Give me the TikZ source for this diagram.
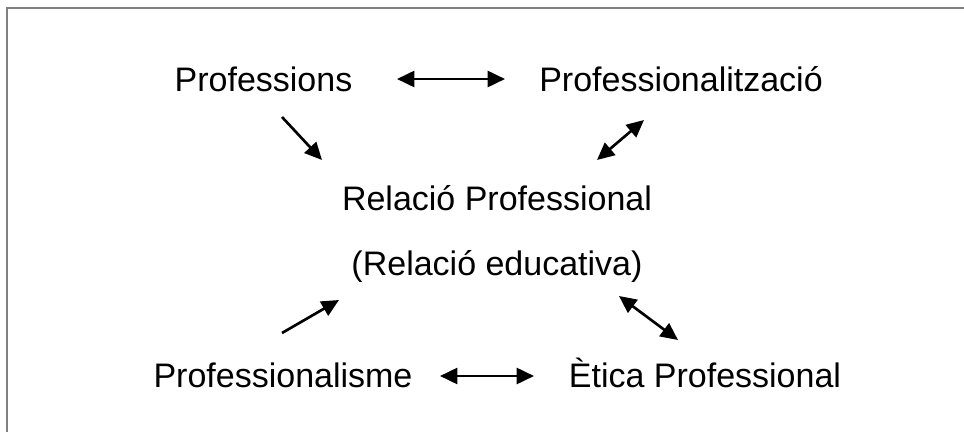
\documentclass[tikz,border=0pt]{standalone}
\usepackage{fontspec}
\setmainfont{Liberation Sans}
\usetikzlibrary{arrows.meta}
\begin{document}
\begin{tikzpicture}[x=0.75pt,y=-0.75pt,
  lbl/.style={anchor=base,inner sep=0pt,font=\fontsize{25.5}{30}\selectfont},
  conn/.style={line width=2pt,-{Triangle[length=13pt,width=12pt]}},
  biconn/.style={line width=2pt,{Triangle[length=13pt,width=12pt]}-{Triangle[length=13pt,width=12pt]}},
  frame/.style={draw=black!50,line width=1.5pt}]
\useasboundingbox (0,0) rectangle (964,432);
\draw[frame] (6.5,440) -- (6.5,8) -- (970,8);
% texts
\node[lbl] (prof) at (263.5,91) {Professions};
\node[lbl] (profz) at (681,91) {Professionalització};
\node[lbl] (rel) at (497,210) {Relació Professional};
\node[lbl] (reled) at (497,275) {(Relació educativa)};
\node[lbl] (profm) at (283,387) {Professionalisme};
\node[lbl] (etica) at (705,387) {Ètica Professional};
% arrow ends
\coordinate (a1) at (397,79);  \coordinate (b1) at (505,79);
\coordinate (a2) at (282,117); \coordinate (b2) at (322,160);
\coordinate (a3) at (597,160); \coordinate (b3) at (644,120);
\coordinate (a4) at (282,333); \coordinate (b4) at (339,300);
\coordinate (a5) at (619,296); \coordinate (b5) at (678,340);
\coordinate (a6) at (440,376); \coordinate (b6) at (534,376);
\draw[biconn] (a1) -- (b1);
\draw[conn] (a2) -- (b2);
\draw[biconn] (a3) -- (b3);
\draw[conn] (a4) -- (b4);
\draw[biconn] (a5) -- (b5);
\draw[biconn] (a6) -- (b6);
\end{tikzpicture}
\end{document}
